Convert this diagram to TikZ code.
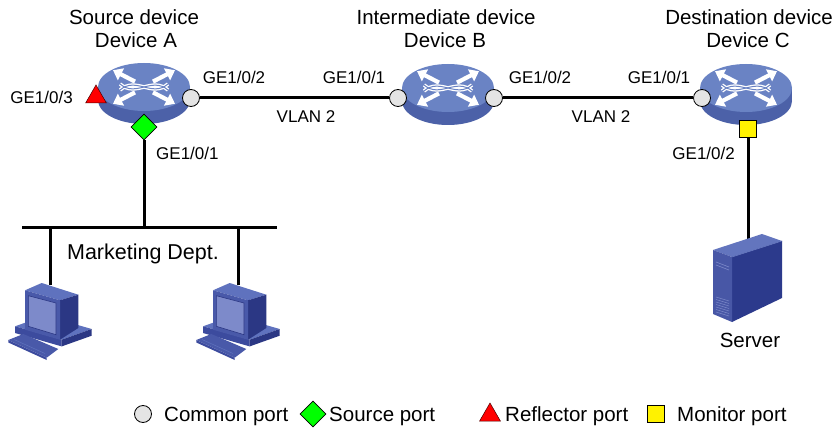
\documentclass[tikz,border=0pt]{standalone}
\usepackage{fontspec}
\setmainfont{Liberation Sans}
\usetikzlibrary{shapes.geometric,arrows.meta}

\definecolor{facetop}{HTML}{6A83C4}
\definecolor{faceside}{HTML}{4C61A8}
\definecolor{portgray}{HTML}{E4E4E4}
\definecolor{pcfront}{HTML}{4959A9}
\definecolor{pcscreen}{HTML}{7D8ACA}
\definecolor{pcside}{HTML}{2B3784}
\definecolor{pctop}{HTML}{5F72BE}
\definecolor{pcbase}{HTML}{3C4B9E}
\definecolor{srvfront}{HTML}{4857A6}
\definecolor{srvside}{HTML}{2C3A8C}
\definecolor{srvtop}{HTML}{6375BE}

\tikzset{
  link/.style={line width=3, black},
  title/.style={font=\fontsize{20.5}{24}\selectfont, inner sep=0, anchor=base},
  lbl/.style={font=\fontsize{17}{20}\selectfont, inner sep=0, anchor=base},
  leg/.style={font=\fontsize{20.5}{24}\selectfont, inner sep=0, anchor=base west},
  commonport/.style={circle, draw=black, fill=portgray, minimum size=17, inner sep=0, line width=0.8},
  srcport/.style={diamond, draw=black, fill=green, minimum size=26, inner sep=0, line width=0.7},
  reflport/.style={regular polygon, regular polygon sides=3, draw=black!70!red, fill=red, minimum size=24, inner sep=0, line width=0.5},
  monport/.style={rectangle, draw=black, fill=yellow, minimum size=17, inner sep=0, line width=0.7},
  router/.pic={
    \fill[faceside] (-46,0) rectangle (46,13);
    \fill[faceside] (0,13) ellipse [x radius=46, y radius=24];
    \fill[facetop] (0,0) ellipse [x radius=46, y radius=24];
    \begin{scope}[yscale=0.6]
      \foreach \sx/\sy in {1/1,1/-1,-1/1,-1/-1}
        \draw[white, line width=4.2, -{Triangle[width=13, length=9]}]
          (\sx*9,\sy*9) -- (\sx*31,\sy*28);
      \draw[white, line width=3.6] (-24,5) .. controls (-8,-18) and (8,18) .. (24,-5);
      \draw[white, line width=3.6] (-24,-5) .. controls (-8,18) and (8,-18) .. (24,5);
      \draw[facetop, line width=1] (-24,5) .. controls (-8,-18) and (8,18) .. (24,-5);
      \draw[facetop, line width=1] (-24,-5) .. controls (-8,18) and (8,-18) .. (24,5);
    \end{scope}
  },
  pc/.pic={
    % base slab
    \fill[pctop] (-35,43.3) -- (11.7,56.7) -- (41.7,46) -- (-5,32.7) -- cycle;
    \fill[pcbase] (-35,43.3) -- (11.7,56.7) -- (11.7,63.4) -- (-35,50) -- cycle;
    \fill[pcside] (11.7,56.7) -- (41.7,46) -- (41.7,52.7) -- (11.7,63.4) -- cycle;
    % monitor
    \fill[pctop] (-25,7.3) -- (-8.3,0) -- (28.3,11.7) -- (10,17.3) -- cycle;
    \fill[pcside] (10,17.3) -- (28.3,11.7) -- (28.3,45) -- (10,56.7) -- cycle;
    \fill[pcfront] (-25,7.3) -- (10,17.3) -- (10,56.7) -- (-25,46.7) -- cycle;
    \fill[pcscreen] (-21.7,12.7) -- (6,20) -- (6,51.7) -- (-21.7,43.3) -- cycle;
    \draw[pcside, line width=0.6] (-21.7,12.7) -- (6,20) -- (6,51.7) -- (-21.7,43.3) -- cycle;
    % keyboard
    \fill[pcbase] (-41.7,57) -- (-3.3,74.7) -- (-3.3,77) -- (-41.7,59.5) -- cycle;
    \fill[pcfront] (-41.7,57) -- (-26.7,51) -- (8.3,66) -- (-3.3,74.7) -- cycle;
    \draw[pctop, line width=0.5] (-36,56.5) -- (-5,70.5);
  }
}

\begin{document}
\begin{tikzpicture}[x=1pt, y=-1pt]
\useasboundingbox[fill=white] (0,0) rectangle (840,430);

% device titles
\node[title] (tA) at (134,25) {Source device};
\node[title] (nA) at (136,48) {Device A};
\node[title] (tB) at (446,25) {Intermediate device};
\node[title] (nB) at (445,48) {Device B};
\node[title] (tC) at (749,25) {Destination device};
\node[title] (nC) at (748,48) {Device C};

% switches
\coordinate (devA) at (144,87);
\coordinate (devB) at (448,88);
\coordinate (devC) at (746,88);
\path (devA) pic {router};
\path (devB) pic {router};
\path (devC) pic {router};

% ports
\node[commonport] (a2) at (191,98) {};
\node[reflport] (a3) at (96,97) {};
\node[srcport] (a1) at (144,127) {};
\node[commonport] (b1) at (398,98) {};
\node[commonport] (b2) at (494,98) {};
\node[commonport] (c1) at (702,98) {};
\node[monport] (c2) at (748,129) {};

% links between the switches
\draw[link] (a2) -- (b1);
\draw[link] (b2) -- (c1);

% port and VLAN labels
\node[lbl, anchor=base east] (la3) at (73,104) {GE1/0/3};
\node[lbl] (la2) at (234,84) {GE1/0/2};
\node[lbl] (lb1) at (354,84) {GE1/0/1};
\node[lbl] (lb2) at (540,84) {GE1/0/2};
\node[lbl] (lc1) at (659,84) {GE1/0/1};
\node[lbl] (v1) at (306,123) {VLAN 2};
\node[lbl] (v2) at (601,123) {VLAN 2};
\node[lbl, anchor=base west] (la1) at (156,160) {GE1/0/1};
\node[lbl, anchor=base east] (lc2) at (735,160) {GE1/0/2};

% marketing LAN
\coordinate (busL) at (22,228);
\coordinate (busR) at (277,228);
\coordinate (busA) at (144,228);
\coordinate (d1) at (50,228);
\coordinate (d2) at (238,228);
\coordinate (pc1) at (50,285);
\coordinate (pc2) at (238,285);
\draw[link] (a1) -- (busA);
\draw[link] (busL) -- (busR);
\draw[link] (d1) -- (pc1);
\draw[link] (d2) -- (pc2);
\path (50,283) pic {pc};
\path (238,283) pic {pc};
\node[font=\fontsize{21.5}{24}\selectfont, inner sep=0, anchor=base] (mkt) at (143,260) {Marketing Dept.};

% server
\coordinate (srv) at (748,246);
\draw[link] (c2) -- (srv);
\fill[srvtop] (713,250) -- (762,234) -- (782,241) -- (732,257) -- cycle;
\fill[srvside] (732,257) -- (782,241) -- (782,298) -- (732,322) -- cycle;
\fill[srvfront] (713,250) -- (732,257) -- (732,322) -- (713,314) -- cycle;
\draw[srvtop, line width=0.5] (732,257) -- (782,241);
\foreach \d in {0,3}
  \draw[pcscreen, line width=0.6] (716,262+\d) -- (729,267+\d);
\foreach \d in {0,2.5,...,15}
  \draw[pcscreen, line width=0.5] (716,297+\d) -- (729,301+\d);
\node[title] (srvl) at (750,347) {Server};

% legend
\node[commonport] (k1) at (143,414) {};
\node[leg] (k1t) at (164,421) {Common port};
\node[srcport] (k2) at (313,414) {};
\node[leg] (k2t) at (329,421) {Source port};
\node[reflport] (k3) at (490,415) {};
\node[leg] (k3t) at (505,421) {Reflector port};
\node[monport] (k4) at (656,414) {};
\node[leg] (k4t) at (677,421) {Monitor port};
\end{tikzpicture}
\end{document}
